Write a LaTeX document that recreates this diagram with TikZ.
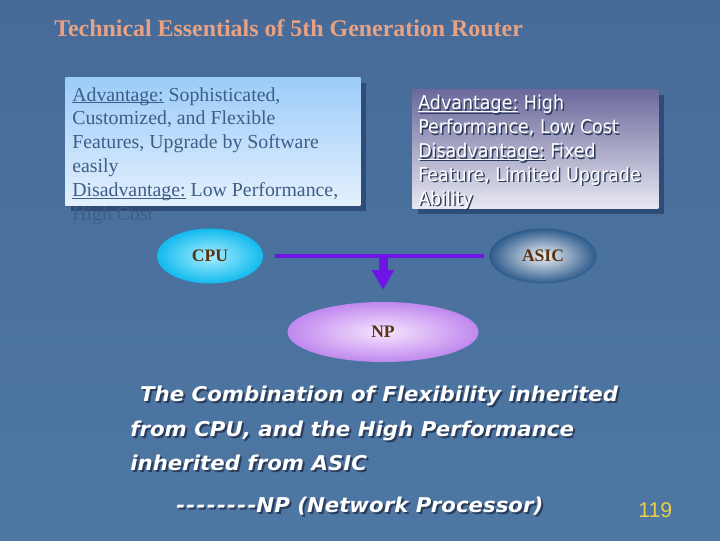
\documentclass[tikz,border=0pt]{standalone}
\usepackage{fontspec}
\setmainfont{Liberation Serif}
\newfontfamily\tahomafont[FakeStretch=0.92]{DejaVu Sans}
\newfontfamily\verdanafont[FakeStretch=1.045]{DejaVu Sans}
\newfontfamily\arialfont{Liberation Sans}
\usetikzlibrary{shapes.geometric,arrows.meta,shadows}

\definecolor{slidetop}{HTML}{476B99}
\definecolor{slidebot}{HTML}{4E77A4}
\definecolor{titleorange}{HTML}{E8A283}
\definecolor{softink}{HTML}{3D5E87}
\definecolor{boxshadow}{HTML}{2E4C78}
\definecolor{skytop}{HTML}{9CCCFA}
\definecolor{skybot}{HTML}{E4F0FC}
\definecolor{mauvetop}{HTML}{6B699B}
\definecolor{mauvebot}{HTML}{E8E8F3}
\definecolor{linkpurple}{HTML}{6E14E6}
\definecolor{ovalink}{HTML}{5A3212}
\definecolor{textshade}{HTML}{2B3D5C}
\definecolor{pagegold}{HTML}{E6D04A}
\definecolor{cpuedge}{HTML}{12BAEE}
\definecolor{cpucore}{HTML}{A8EEFF}
\definecolor{asicedge}{HTML}{2C5A8C}
\definecolor{asiccore}{HTML}{EEF1F4}
\definecolor{npedge}{HTML}{C088EE}
\definecolor{npcore}{HTML}{F6E6FF}

% underline sitting just below the baseline
\newcommand{\undertag}[1]{\setbox0=\hbox{#1}\rlap{\rule[-1.6pt]{\wd0}{0.6pt}}\box0\relax}

\tikzset{
  notebox/.style={inner sep=0pt, anchor=north west,
    drop shadow={shadow xshift=0.15cm, shadow yshift=-0.15cm, fill=boxshadow, opacity=1}},
  oval/.style={ellipse, inner sep=0pt, font=\fontsize{12.5}{15}\selectfont\bfseries, text=ovalink},
  link/.style={line width=3.5pt, draw=linkpurple},
  summary/.style={inner sep=0pt, font=\fontsize{14.5}{24.5}\selectfont\verdanafont\bfseries\itshape},
}

\begin{document}
\begin{tikzpicture}[x=0.025cm, y=-0.025cm]
    % --- Slide background ---
    \useasboundingbox (0,0) rectangle (720,540);
    \fill[top color=slidetop, bottom color=slidebot] (0,0) rectangle (720,540);

    \node[anchor=base west, inner sep=0pt, text=titleorange,
          font=\fontsize{17}{20}\selectfont\bfseries] (title) at (54,36)
        {Technical Essentials of 5th Generation Router};

    % --- Notes on CPU and ASIC ---
    \node[notebox, minimum width=7.375cm, minimum height=3.2cm,
          top color=skytop, bottom color=skybot] (cpunote) at (65,77) {};
    \node[anchor=north west, inner sep=0pt, align=left, text=softink,
          font=\fontsize{14.1}{17}\selectfont] (cputext) at (72,87)
        {\undertag{Advantage:} Sophisticated,\\
         Customized, and Flexible\\
         Features, Upgrade by Software\\
         easily\\
         \undertag{Disadvantage:} Low Performance,\\
         High Cost};

    \node[notebox, minimum width=6.15cm, minimum height=2.975cm,
          top color=mauvetop, bottom color=mauvebot] (asicnote) at (412,89) {};
    \node[anchor=north west, inner sep=0pt, align=left, text=textshade,
          font=\fontsize{13.5}{17}\selectfont\tahomafont] (asicshade) at (419.5,96.5)
        {\undertag{Advantage:} High\\
         Performance, Low Cost\\
         \undertag{Disadvantage:} Fixed\\
         Feature, Limited Upgrade\\
         Ability};
    \node[anchor=north west, inner sep=0pt, align=left, text=white,
          font=\fontsize{13.5}{17}\selectfont\tahomafont] (asictext) at (418,95)
        {\undertag{Advantage:} High\\
         Performance, Low Cost\\
         \undertag{Disadvantage:} Fixed\\
         Feature, Limited Upgrade\\
         Ability};

    % --- CPU + ASIC gives NP ---
    \node[oval, minimum width=2.65cm, minimum height=1.375cm,
          inner color=cpucore, outer color=cpuedge] (cpu) at (210,256) {CPU};
    \node[oval, minimum width=2.675cm, minimum height=1.375cm,
          inner color=asiccore, outer color=asicedge] (asic) at (543,256) {ASIC};
    \node[oval, minimum width=4.775cm, minimum height=1.5cm,
          inner color=npcore, outer color=npedge] (np) at (383,332) {NP};

    \draw[link, shorten <=8.5pt, shorten >=3.5pt] (cpu) -- (asic);
    \coordinate (join) at (383,256);
    \draw[link, line width=6.4pt, shorten >=8.5pt,
          -{Triangle[width=15pt, length=14pt]}] (join) -- (join |- np.north);

    % --- Conclusion ---
    \node[summary, anchor=north west, align=left, text=textshade] (sumshade) at (132,388)
        {\hspace{7pt}The Combination of Flexibility inherited\\
         from CPU, and the High Performance\\
         inherited from ASIC};
    \node[summary, anchor=north west, align=left, text=white] (sumtext) at (130,386)
        {\hspace{7pt}The Combination of Flexibility inherited\\
         from CPU, and the High Performance\\
         inherited from ASIC};
    \node[summary, anchor=base west, text=textshade] (npshade) at (178,514)
        {\makebox[57pt][s]{-\hfill-\hfill-\hfill-\hfill-\hfill-\hfill-\hfill-}NP (Network Processor)};
    \node[summary, anchor=base west, text=white] (nptext) at (176,512)
        {\makebox[57pt][s]{-\hfill-\hfill-\hfill-\hfill-\hfill-\hfill-\hfill-}NP (Network Processor)};

    \node[anchor=base west, inner sep=0pt, text=pagegold,
          font=\fontsize{15.2}{17}\selectfont\arialfont] (pagenum) at (638,517) {119};
\end{tikzpicture}
\end{document}
